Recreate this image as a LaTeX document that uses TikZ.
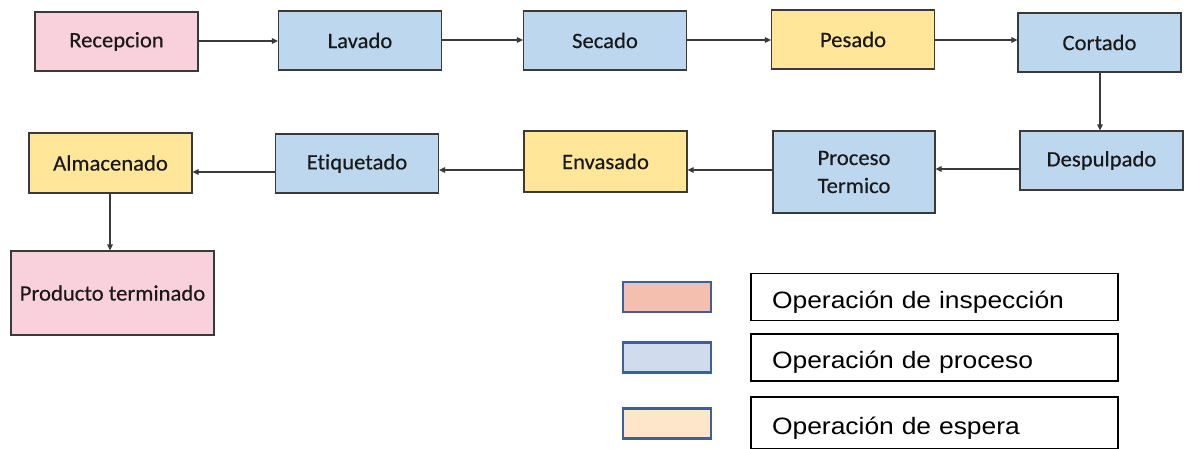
\documentclass[tikz,border=0pt]{standalone}
\usepackage{fontspec}
\setmainfont{Carlito}[Ligatures=NoCommon, FakeStretch=1.03, FakeBold=0.4]
\newfontfamily\legfont{Liberation Sans}[FakeStretch=1.115]
\usetikzlibrary{arrows.meta}

\definecolor{insp}{HTML}{F9D1DC}
\definecolor{proc}{HTML}{BDD7EE}
\definecolor{wait}{HTML}{FFE699}
\definecolor{edge}{HTML}{3A3A3A}
\definecolor{legedge}{HTML}{3E5F98}
\definecolor{leginsp}{HTML}{F4BFAE}
\definecolor{legproc}{HTML}{D0DCEE}
\definecolor{legwait}{HTML}{FDE6CA}

\tikzset{
  stepbox/.style={draw=edge, line width=1.2pt, minimum width=163pt, minimum height=59pt,
    inner sep=2pt, align=center, font=\fontsize{22}{26}\selectfont, text=black!90},
  inspbox/.style={stepbox, fill=insp},
  procbox/.style={stepbox, fill=proc},
  waitbox/.style={stepbox, fill=wait},
  flow/.style={draw=edge, line width=1.2pt, -{Triangle[length=6pt,width=5.5pt]}},
  swatch/.style={draw=legedge, line width=2.2pt, minimum width=88pt, minimum height=30pt, inner sep=0pt},
  legbox/.style={draw=black, line width=1.5pt, fill=white, minimum width=367pt, minimum height=47pt,
    inner sep=0pt, text width=325pt, text height=24pt, text depth=2pt, align=left,
    font=\legfont\fontsize{23.7}{28}\selectfont},
}

\begin{document}
\begin{tikzpicture}[x=1pt, y=-1pt]
  \useasboundingbox (0,0) rectangle (1187,448);
  \clip (0,0) rectangle (1187,448);

  % first row, left to right
  \node[inspbox] (rec) at (116.5,41.5) {Recepcion};
  \node[procbox] (lav) at (360,40.5) {Lavado};
  \node[procbox] (sec) at (605,40.5) {Secado};
  \node[waitbox] (pes) at (853,39.5) {Pesado};
  \node[procbox] (cor) at (1099.5,42.5) {Cortado};

  % second row, right to left
  \node[procbox] (des) at (1101.5,160.5) {Despulpado};
  \node[procbox, minimum width=162pt, minimum height=82pt] (ter) at (854,172) {Proceso\\[2pt]Termico};
  \node[waitbox, minimum height=61pt] (env) at (605.5,161.5) {Envasado};
  \node[procbox] (eti) at (357,163.5) {Etiquetado};
  \node[waitbox, minimum height=60pt] (alm) at (110.5,163) {Almacenado};

  % end product
  \node[inspbox, minimum width=203pt, minimum height=84pt] (prod) at (112.5,293) {Producto terminado};

  % connectors
  \draw[flow] (rec.east |- 0,41) -- (lav.west |- 0,41);
  \draw[flow] (lav.east |- 0,40) -- (sec.west |- 0,40);
  \draw[flow] (sec.east |- 0,40) -- (pes.west |- 0,40);
  \draw[flow] (pes.east |- 0,40) -- (cor.west |- 0,40);
  \draw[flow] (cor.south -| 1100,0) -- (des.north -| 1100,0);
  \draw[flow] (des.west |- 0,169) -- (ter.east |- 0,169);
  \draw[flow] (ter.west |- 0,170) -- (env.east |- 0,170);
  \draw[flow] (env.west |- 0,170) -- (eti.east |- 0,170);
  \draw[flow] (eti.west |- 0,172) -- (alm.east |- 0,172);
  \draw[flow] (alm.south -| 110,0) -- (prod.north -| 110,0);

  % legend
  \node[swatch, fill=leginsp] (s1) at (667,297) {};
  \node[swatch, fill=legproc] (s2) at (667,357.5) {};
  \node[swatch, fill=legwait] (s3) at (667,423.5) {};
  \node[legbox] (l1) at (934.5,297) {Operación de inspección};
  \node[legbox] (l2) at (934.5,357.5) {Operación de proceso};
  \node[legbox, minimum height=52pt] (l3) at (934.5,423) {Operación de espera};
\end{tikzpicture}
\end{document}
